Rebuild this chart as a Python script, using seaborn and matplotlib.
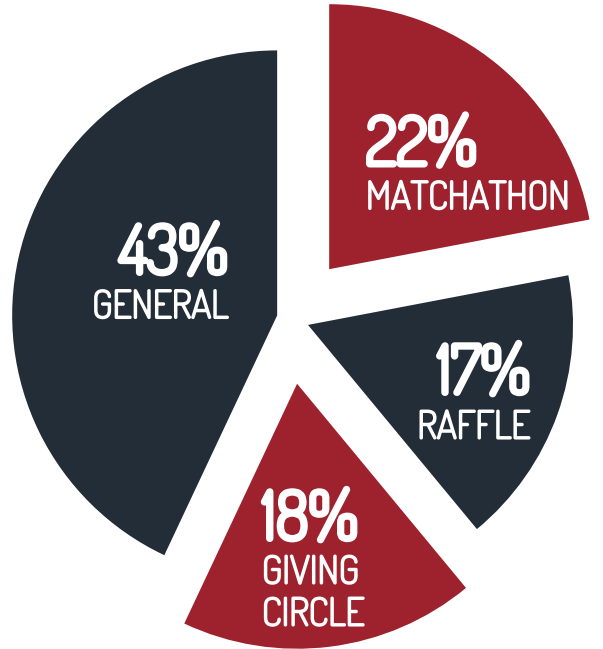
import matplotlib
matplotlib.use("Agg")
import matplotlib.pyplot as plt
import matplotlib.patheffects as pe
import seaborn as sns

categories = ["MATCHATHON", "RAFFLE", "GIVING\nCIRCLE", "GENERAL"]
values = [22, 17, 18, 43]
pct_labels = ["22%", "17%", "18%", "43%"]
explode = [0.239, 0.077, 0.25, 0.045]
colors = ["#9E212E", "#232D38", "#9E212E", "#232D38"]

sns.set_theme(style="white")
plt.rcParams['font.family'] = ['Dosis', 'DejaVu Sans']

W, H = 603, 649
fig = plt.figure(figsize=(W / 100, H / 100), dpi=100)
ax = fig.add_axes([0, 0, 1, 1])
ax.pie(values, explode=explode, colors=colors, startangle=90, counterclock=False,
       radius=1.0, wedgeprops=dict(linewidth=0))
ax.set_aspect('auto')
cx, cy, r = 288.8, 318.0, 265.0
ax.set_xlim(-cx / r, (W - cx) / r)
ax.set_ylim(-(H - cy) / r, cy / r)
ax.axis('off')

# label layout: (x px, baseline px of pct, baseline px of first name line, ha)
layout = {
    "MATCHATHON": (366, 165, 209, 'left'),
    "RAFFLE": (530, 393.5, 438.5, 'right'),
    "GIVING\nCIRCLE": (262, 539.5, 583.5, 'left'),
    "GENERAL": (228, 273.5, 318, 'right'),
}
line_gap = 42

def fx(px):
    return px / W

def fy(py):
    return 1 - py / H

pct_fx = [pe.withStroke(linewidth=3.6, foreground='white')]
lab_fx = [pe.withStroke(linewidth=1.5, foreground='white')]

for cat, pct in zip(categories, pct_labels):
    x, bp, bn, ha = layout[cat]
    fig.text(fx(x), fy(bp), pct, ha=ha, va='baseline', color='white',
             fontsize=48, path_effects=pct_fx)
    lines = cat.split("\n")
    for i, line in enumerate(lines):
        fig.text(fx(x), fy(bn + i * line_gap), line, ha=ha, va='baseline',
                 color='white', fontsize=27.5, path_effects=lab_fx)

fig.savefig("out.png", dpi=100, facecolor='white')
